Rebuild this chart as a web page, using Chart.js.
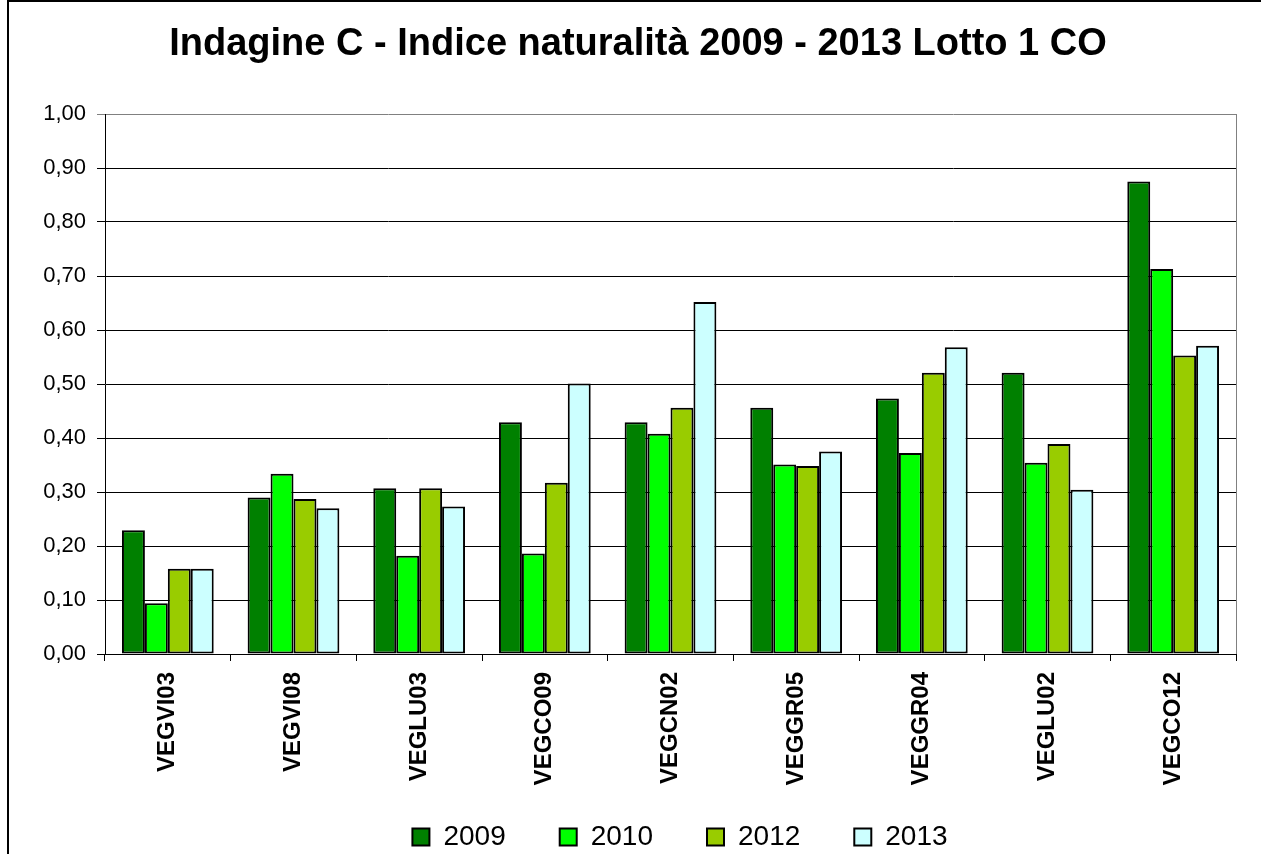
<!DOCTYPE html>
<html>
<head>
<meta charset="utf-8">
<script src="https://cdn.jsdelivr.net/npm/chart.js@4/dist/chart.umd.min.js"></script>
<style>
    html, body { margin: 0; padding: 0; background: #fff; }
    #wrap { width: 1261px; height: 854px; }
</style>
</head>
<body>
<div id="wrap"><canvas id="naturalitaChart" width="1261" height="854"></canvas></div>
<script>
const categories = ['VEGVI03', 'VEGVI08', 'VEGLU03', 'VEGCO09', 'VEGCN02', 'VEGGR05', 'VEGGR04', 'VEGLU02', 'VEGCO12'];
const seriesNames = ['2009', '2010', '2012', '2013'];
const values2009 = [0.229, 0.290, 0.307, 0.429, 0.429, 0.456, 0.473, 0.521, 0.875];
const values2010 = [0.094, 0.334, 0.182, 0.186, 0.408, 0.351, 0.372, 0.354, 0.713];
const values2012 = [0.158, 0.287, 0.307, 0.317, 0.456, 0.348, 0.521, 0.389, 0.553];
const values2013 = [0.158, 0.270, 0.273, 0.501, 0.652, 0.375, 0.568, 0.304, 0.571];
const seriesColors = ['#008000', '#00FF00', '#99CC00', '#CCFFFF'];

(function() {
    'use strict';

    const FONT = '"Liberation Sans", Arial, sans-serif';
    const seriesValues = [values2009, values2010, values2012, values2013];

    // outer frame of the original sheet chart, plus grey plot border
    const framePlugin = {
        id: 'frame',
        afterLayout(chart) {
            // legend and title sit right of the canvas centre in the original,
            // and the legend row overlaps the bottom of the label band
            if (chart.legend) {
                chart.legend.left += 62;
                chart.legend.right += 62;
                chart.legend.top -= 17;
                chart.legend.bottom -= 17;
            }
            if (chart.titleBlock) {
                chart.titleBlock.left += 20;
                chart.titleBlock.right += 20;
            }
        },
        beforeDraw(chart) {
            const ctx = chart.ctx;
            ctx.save();
            ctx.strokeStyle = '#000';
            ctx.lineWidth = 2;
            ctx.beginPath();
            ctx.moveTo(8, chart.height);
            ctx.lineTo(8, 1);
            ctx.lineTo(chart.width, 1);
            ctx.stroke();
            ctx.restore();
        },
        afterDatasetsDraw(chart) {
            const a = chart.chartArea;
            const ctx = chart.ctx;
            ctx.save();
            ctx.strokeStyle = '#808080';
            ctx.lineWidth = 1;
            ctx.beginPath();
            ctx.moveTo(Math.round(a.right) + 0.5, a.top);
            ctx.lineTo(Math.round(a.right) + 0.5, a.bottom);
            ctx.stroke();
            ctx.restore();
        }
    };

    function buildDatasets() {
        return seriesNames.map((name, i) => ({
            label: name,
            data: seriesValues[i],
            backgroundColor: seriesColors[i],
            borderColor: '#000',
            borderWidth: 2,
            borderSkipped: false,
            categoryPercentage: 0.73,
            barPercentage: 1.0
        }));
    }

    const ctx = document.getElementById('naturalitaChart');

    new Chart(ctx, {
        type: 'bar',
        data: {
            labels: categories,
            datasets: buildDatasets()
        },
        options: {
            responsive: false,
            animation: false,
            layout: {
                padding: { left: 0, right: 25, top: 0, bottom: -24 }
            },
            plugins: {
                title: {
                    display: true,
                    text: 'Indagine C - Indice naturalità 2009 - 2013 Lotto 1 CO',
                    color: '#000',
                    font: { family: FONT, size: 38, weight: 'bold', lineHeight: 1.2 },
                    padding: { top: 22, bottom: 46.4 }
                },
                legend: {
                    position: 'bottom',
                    labels: {
                        color: '#000',
                        font: { family: FONT, size: 28 },
                        boxWidth: 17,
                        boxHeight: 17,
                        padding: 54
                    }
                },
                tooltip: { enabled: false }
            },
            scales: {
                x: {
                    grid: {
                        display: true,
                        drawOnChartArea: false,
                        drawTicks: true,
                        tickLength: 7,
                        color: '#000',
                        offset: true
                    },
                    border: { display: true, color: '#000', width: 1 },
                    ticks: {
                        color: '#000',
                        font: { family: FONT, size: 24, weight: 'bold' },
                        minRotation: 90,
                        maxRotation: 90,
                        padding: 11,
                        autoSkip: false
                    },
                    afterFit: function(scale) {
                        scale.height = 132;
                    }
                },
                y: {
                    min: 0,
                    max: 1,
                    grid: {
                        color: function(c) {
                            return c.tick && c.tick.value >= 1 ? '#808080' : '#000';
                        },
                        lineWidth: 1,
                        tickLength: 8,
                        drawTicks: true
                    },
                    border: { display: true, color: '#000', width: 1 },
                    ticks: {
                        stepSize: 0.1,
                        color: '#000',
                        padding: 11,
                        font: { family: FONT, size: 22 },
                        callback: function(value) {
                            return value.toFixed(2).replace('.', ',');
                        }
                    },
                    afterFit: function(scale) {
                        scale.width = 105;
                    }
                }
            }
        },
        plugins: [framePlugin]
    });
})();
</script>
</body>
</html>
